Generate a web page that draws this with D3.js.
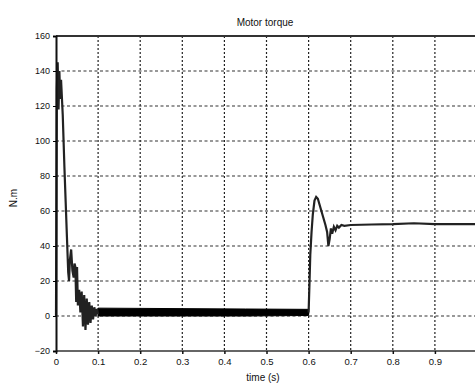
<!DOCTYPE html>
<html><head><meta charset="utf-8">
<script src="https://cdn.jsdelivr.net/npm/d3@7"></script>
<style>body{margin:0;background:#fff}svg{display:block}text{font-family:"Liberation Sans",Arial,sans-serif;fill:#111}</style>
</head><body><svg id="c" width="475" height="385"></svg>
<script>
const xTicks=[0,0.1,0.2,0.3,0.4,0.5,0.6,0.7,0.8,0.9];
const yTicks=[-20,0,20,40,60,80,100,120,140,160];
// transient torque trace (time s, torque N.m)
const transT=[0,0.002,0.004,0.006,0.008,0.010,0.012,0.016,0.018,0.020,0.023,0.026,0.029,0.031,0.033,0.036,0.039,0.042,0.044,0.046,0.048,0.050,0.052,0.055,0.058,0.061,0.064,0.067,0.070,0.073,0.076,0.079,0.082,0.085,0.088,0.091,0.094,0.097,0.100];
const transV=[0,130,145,118,140,124,135,115,100,85,65,45,25,20,32,38,26,22,30,28,8,28,6,15,2,14,-6,12,-8,10,-5,8,-4,6,-2,5,0,4,1];
// steady ripple band before load step
const bandT=[0.1,0.45,0.6];
const bandLo=[0,0,0.3];
const bandHi=[4.5,4,3.8];
// load step response
const stepT=[0.600,0.602,0.604,0.607,0.610,0.614,0.618,0.622,0.628,0.634,0.640,0.644,0.647,0.650,0.653,0.656,0.660,0.664,0.668,0.672,0.678,0.685,0.700,0.750,0.800,0.850,0.900,1.000];
const stepV=[2,18,35,48,58,66,68,67,62,57,52,48,40,44,50,47,51,49,51.5,50.5,52,51.5,52,52.3,52.5,53,52.5,52.5];

const svg=d3.select("#c");
const x=d3.scaleLinear().domain([0,1]).range([56,477]);
const y=d3.scaleLinear().domain([-20,160]).range([351,36]);

// grid
const g=svg.append("g");
g.selectAll(".vg").data(xTicks.filter(d=>d>0)).join("line")
 .attr("x1",d=>x(d)).attr("x2",d=>x(d)).attr("y1",y(160)).attr("y2",y(-20))
 .attr("stroke","#222").attr("stroke-width",1.2).attr("stroke-dasharray","2,2");
g.selectAll(".hg").data(yTicks.filter(d=>d>-20&&d<160)).join("line")
 .attr("x1",x(0)).attr("x2",475).attr("y1",d=>y(d)).attr("y2",d=>y(d))
 .attr("stroke","#333").attr("stroke-width",1.1).attr("stroke-dasharray","3,2.5");

// frame
svg.append("line").attr("x1",x(0)).attr("x2",475).attr("y1",y(160)).attr("y2",y(160)).attr("stroke","#333").attr("stroke-width",2);
svg.append("line").attr("x1",x(0)).attr("x2",475).attr("y1",y(-20)).attr("y2",y(-20)).attr("stroke","#666").attr("stroke-width",2);

// band
const area=d3.area().x((d,i)=>x(bandT[i])).y0((d,i)=>y(bandLo[i])).y1((d,i)=>y(bandHi[i]));
svg.append("path").attr("d",area(bandT)).attr("fill","#000").attr("stroke","#000").attr("stroke-width",1);

const line=d3.line().x(d=>x(d[0])).y(d=>y(d[1]));
svg.append("path").attr("d",line(transT.map((t,i)=>[t,transV[i]]))).attr("fill","none").attr("stroke","#222").attr("stroke-width",2.2);
svg.append("path").attr("d",line(stepT.map((t,i)=>[t,stepV[i]]))).attr("fill","none").attr("stroke","#222").attr("stroke-width",2.2);

// axes
const ya=svg.append("g").attr("transform",`translate(${x(0)},0)`).call(d3.axisLeft(y).tickValues(yTicks).tickSize(3).tickFormat(d3.format("d")));
ya.select(".domain").attr("stroke","#111").attr("stroke-width",2);
ya.selectAll("text").style("font-size","9px").attr("x",-6);
const xa=svg.append("g").attr("transform",`translate(0,${y(-20)})`).call(d3.axisBottom(x).tickValues(xTicks).tickSize(3).tickFormat(d=>d===0?"0":d3.format(".1f")(d)));
xa.select(".domain").remove();
xa.selectAll("line").attr("stroke","#111").attr("stroke-width",1.5);
xa.selectAll("text").style("font-size","9.5px").attr("y",7);

svg.append("text").attr("x",265).attr("y",26).attr("text-anchor","middle").style("font-size","10px").text("Motor torque");
svg.append("text").attr("x",263).attr("y",381).attr("text-anchor","middle").style("font-size","10px").text("time (s)");
svg.append("text").attr("transform","translate(17,198) rotate(-90)").attr("text-anchor","middle").style("font-size","10px").text("N.m");
</script></body></html>
